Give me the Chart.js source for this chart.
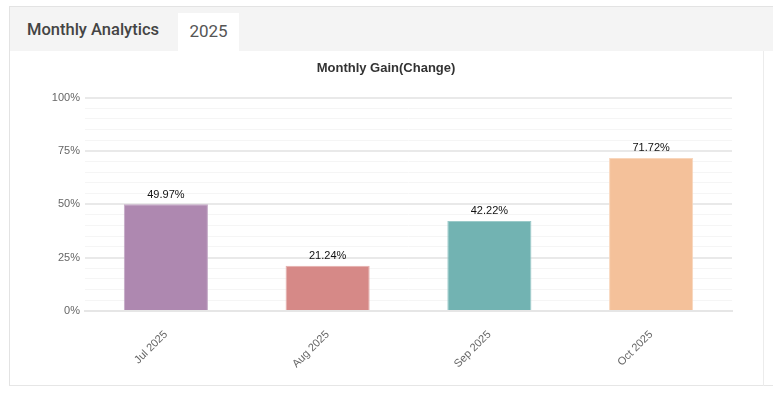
<!DOCTYPE html>
<html><head><meta charset="utf-8">
<script src="https://cdn.jsdelivr.net/npm/chart.js@4.4.1/dist/chart.umd.min.js"></script>
<style>
html,body{margin:0;padding:0;background:#fff;width:773px;height:394px;overflow:hidden;font-family:Roboto,"Liberation Sans",Arial,sans-serif;}
#panel{position:absolute;left:9px;top:6px;width:764px;height:380px;border-top:1px solid #e3e3e3;border-left:1px solid #e3e3e3;border-bottom:1px solid #e6e6e6;box-sizing:border-box;}
#head{position:absolute;left:0;top:0;right:0;height:44px;background:#f4f4f4;}
#title{position:absolute;left:17px;top:13px;font-size:16.5px;font-weight:500;color:#444;}
#tab{position:absolute;left:168px;top:6px;width:61px;height:38px;background:#fff;font-size:17px;color:#555;text-align:center;line-height:36px;}
#rline{position:absolute;left:753px;top:44px;width:1px;height:335px;background:#ececec;}
#wrap{position:absolute;left:10px;top:50px;width:752px;height:335px;}
</style></head>
<body>
<div id="panel"><div id="head"><div id="title">Monthly Analytics</div><div id="tab">2025</div></div><div id="rline"></div></div>
<div id="wrap"><canvas id="c"></canvas></div>
<script>
const categories = ["Jul 2025","Aug 2025","Sep 2025","Oct 2025"];
const gains = [49.97, 21.24, 42.22, 71.72];
const barColors = ["#ae88b0","#d68987","#72b3b2","#f4c19a"];
const borderColors = ["#c3a7c5","#e5aeac","#9bcac9","#f8d6bc"];

const labelPlugin = {
  id:'vals',
  afterDatasetsDraw(chart){
    const ctx = chart.ctx;
    const meta = chart.getDatasetMeta(0);
    ctx.save();
    ctx.font = '11px "Liberation Sans", Arial, sans-serif';
    ctx.fillStyle = '#111';
    ctx.textAlign = 'center';
    ctx.textBaseline = 'bottom';
    meta.data.forEach((el,i)=>{
      ctx.fillText(gains[i].toFixed(2)+'%', el.x, el.y-4);
    });
    ctx.restore();
  }
};

new Chart(document.getElementById('c'),{
  type:'bar',
  data:{labels:categories,datasets:[{data:gains,backgroundColor:barColors,borderColor:borderColors,borderWidth:1,barPercentage:0.52,categoryPercentage:1}]},
  options:{
    responsive:true,maintainAspectRatio:false,animation:false,
    layout:{padding:{left:0,right:0,top:4,bottom:0}},
    plugins:{
      legend:{display:false},tooltip:{enabled:false},
      title:{display:true,text:'Monthly Gain(Change)',color:'#333',font:{family:'"Liberation Sans", Arial, sans-serif',size:13,weight:'bold'},padding:{top:7,bottom:21}}
    },
    scales:{
      x:{grid:{display:false},border:{color:'#e6e6e6',width:2},
         afterFit:(s)=>{s.height=74; s.paddingLeft=0; s.paddingRight=0;},
         ticks:{color:'#666',font:{family:'"Liberation Sans", Arial, sans-serif',size:11},maxRotation:45,minRotation:45,padding:9}},
      y:{min:0,max:100,
         border:{display:false},
         afterFit:(s)=>{s.width=75;},
         grid:{color:(c)=> (c.tick && c.tick.value%25===0) ? '#e9e9e9' : '#f5f5f5', lineWidth:(c)=> (c.tick && c.tick.value%25===0)?2:1, drawTicks:false},
         ticks:{stepSize:5,autoSkip:false,color:'#666',padding:5,font:{family:'"Liberation Sans", Arial, sans-serif',size:11},
           callback:(v)=> v%25===0 ? v+'%' : ''}},
      yR:{position:'right',display:true,min:0,max:100,
         grid:{display:false},border:{display:false},ticks:{display:false},
         afterFit:(s)=>{s.width=30;}}
    }
  },
  plugins:[labelPlugin]
});
</script>
</body></html>
